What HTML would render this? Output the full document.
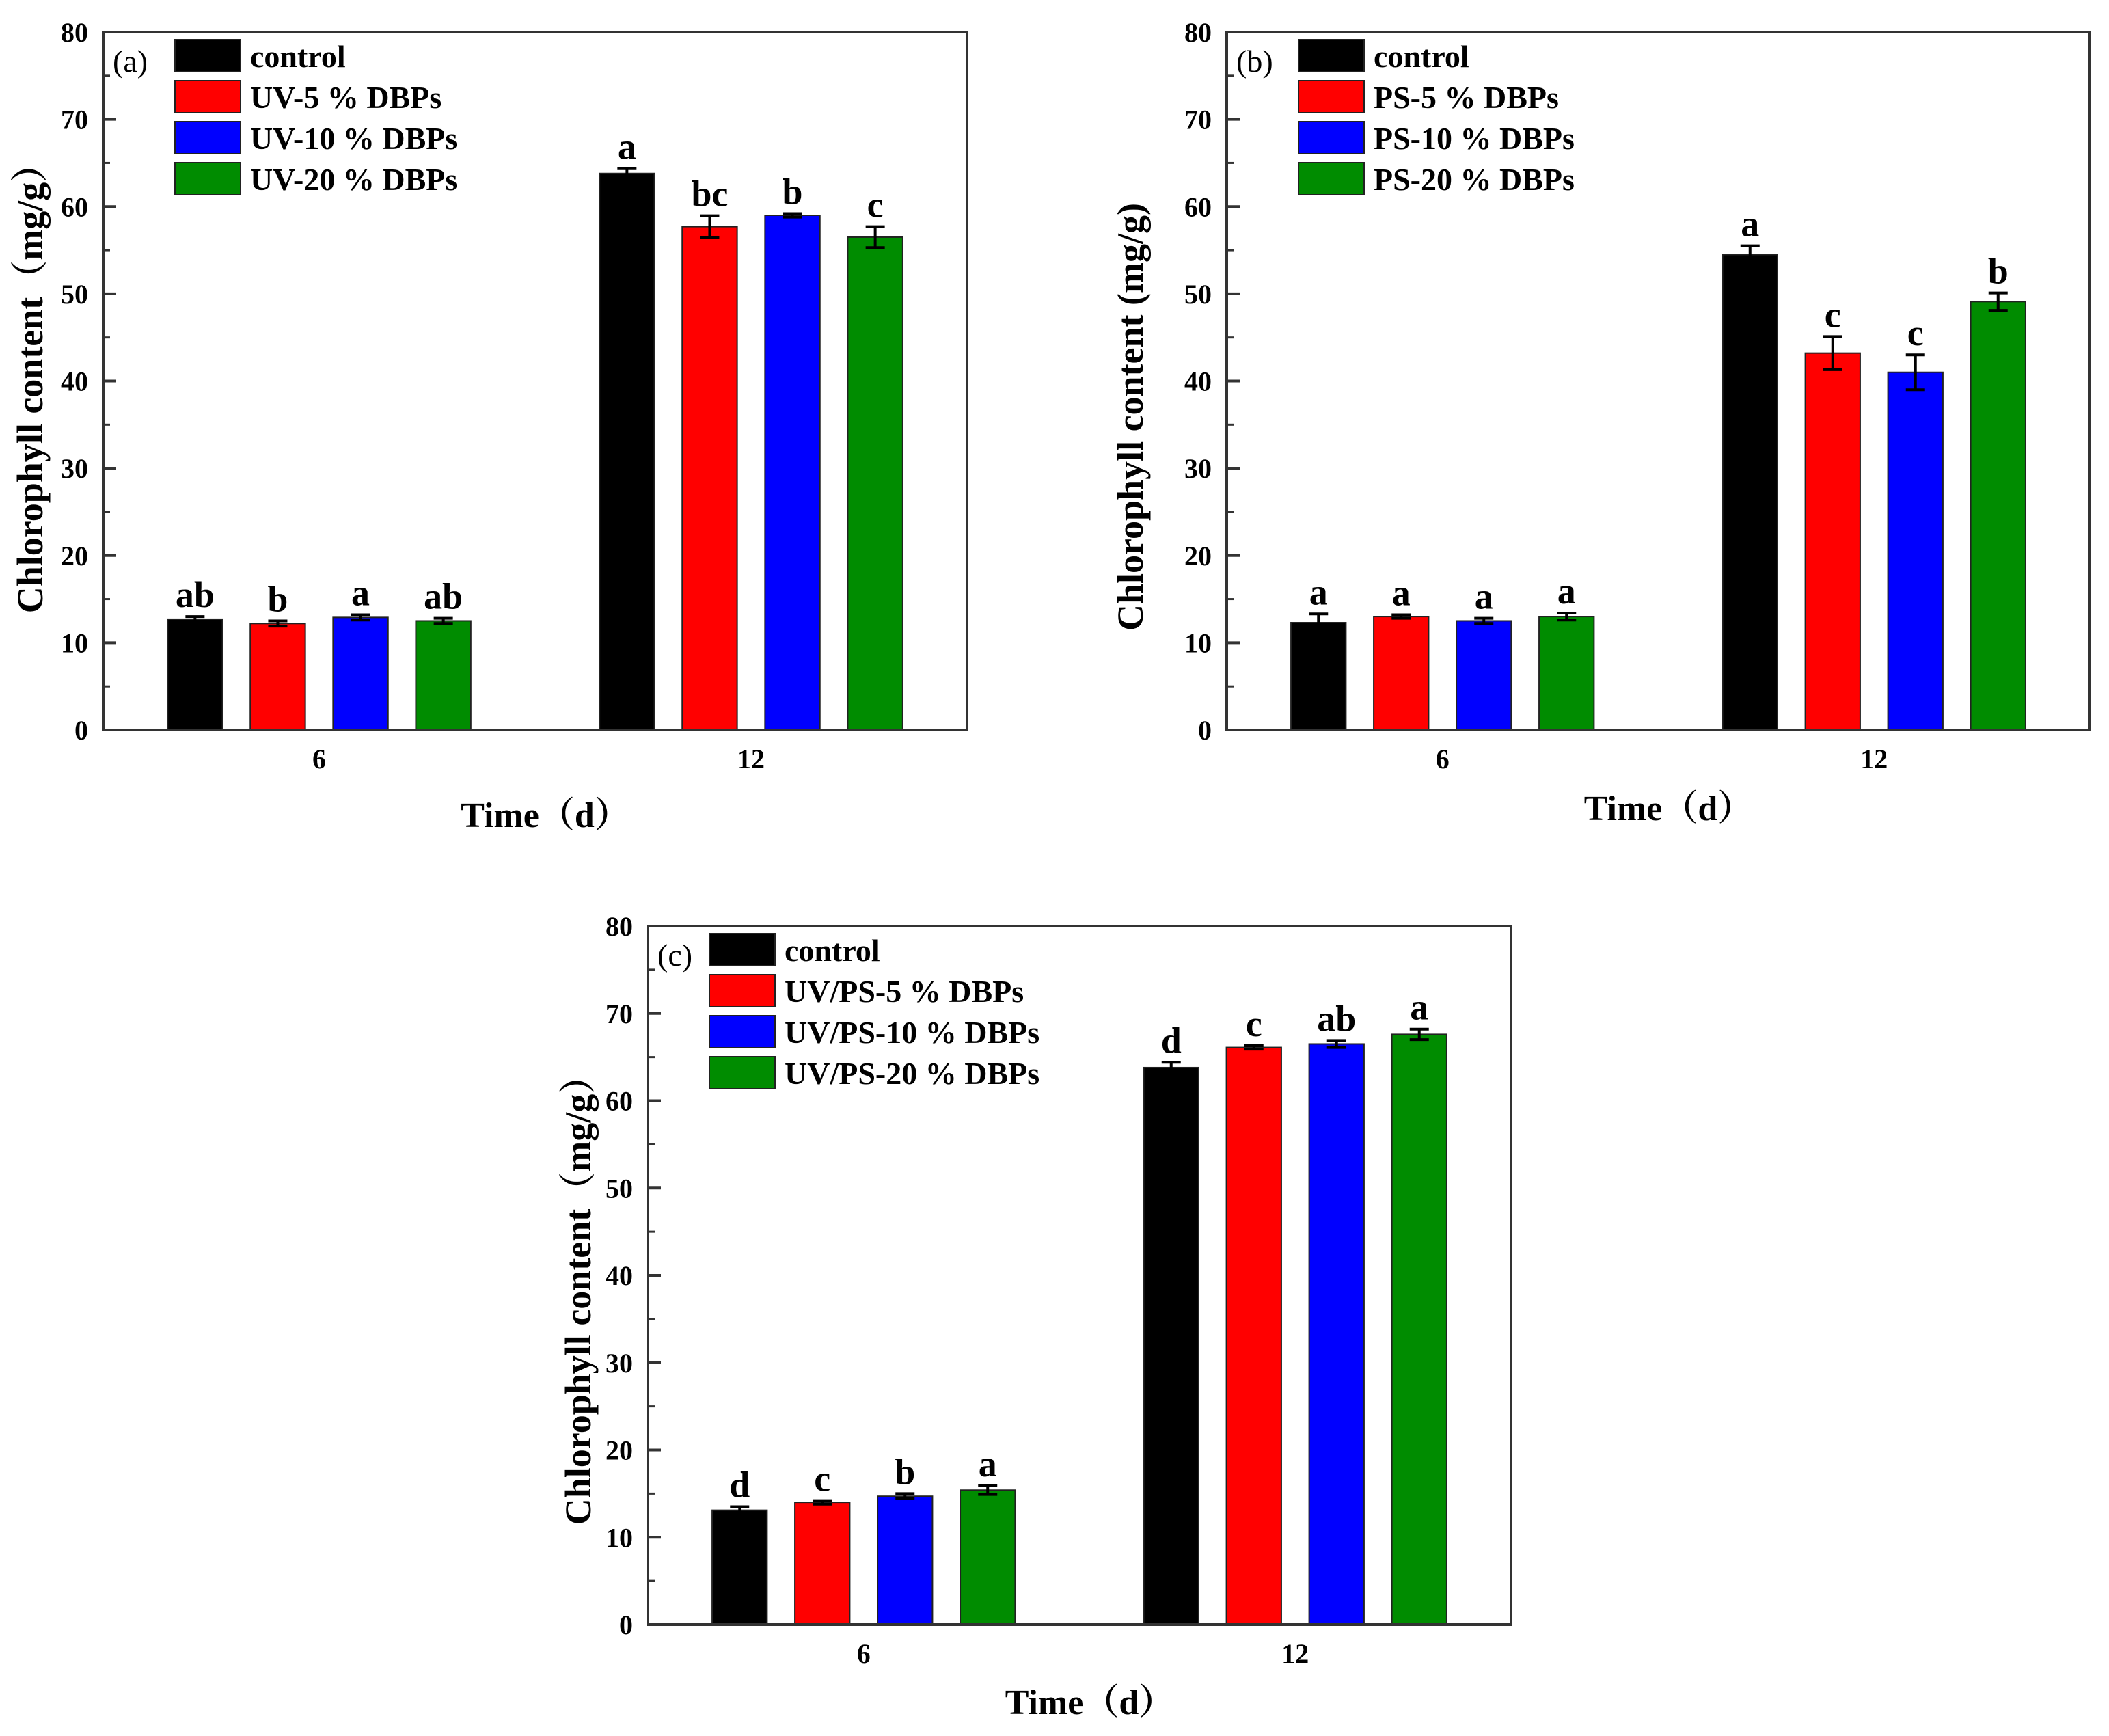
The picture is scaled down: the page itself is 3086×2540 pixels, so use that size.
<!DOCTYPE html>
<html><head><meta charset="utf-8">
<style>
html,body{margin:0;padding:0;background:#fff;}
svg{display:block;font-family:"Liberation Serif","Noto Serif CJK SC",serif;}
</style></head>
<body>
<svg id="fig" width="3086" height="2540" viewBox="0 0 3086 2540" xmlns="http://www.w3.org/2000/svg"></svg>
<script>
const categories = ["6", "12"];
const yTicks = [0, 10, 20, 30, 40, 50, 60, 70, 80];
const seriesColors = ["#000000", "#ff0000", "#0000ff", "#008c00"];

const aLegend = ["control", "UV-5 % DBPs", "UV-10 % DBPs", "UV-20 % DBPs"];
const aValues6 = [12.7, 12.2, 12.9, 12.5];
const aValues12 = [63.8, 57.7, 59.0, 56.5];
const aErr6 = [0.3, 0.3, 0.3, 0.3];
const aErr12 = [0.55, 1.25, 0.2, 1.2];
const aLetters6 = ["ab", "b", "a", "ab"];
const aLetters12 = ["a", "bc", "b", "c"];

const bLegend = ["control", "PS-5 % DBPs", "PS-10 % DBPs", "PS-20 % DBPs"];
const bValues6 = [12.3, 13.0, 12.5, 13.0];
const bValues12 = [54.5, 43.2, 41.0, 49.1];
const bErr6 = [1.0, 0.2, 0.3, 0.4];
const bErr12 = [1.0, 1.9, 2.0, 1.0];
const bLetters6 = ["a", "a", "a", "a"];
const bLetters12 = ["a", "c", "c", "b"];

const cLegend = ["control", "UV/PS-5 % DBPs", "UV/PS-10 % DBPs", "UV/PS-20 % DBPs"];
const cValues6 = [13.1, 14.0, 14.7, 15.4];
const cValues12 = [63.8, 66.1, 66.5, 67.6];
const cErr6 = [0.4, 0.2, 0.3, 0.5];
const cErr12 = [0.6, 0.2, 0.4, 0.6];
const cLetters6 = ["d", "c", "b", "a"];
const cLetters12 = ["d", "c", "ab", "a"];

const NS = "http://www.w3.org/2000/svg";
const svg = document.getElementById("fig");
function mk(tag, attrs, parent, text) {
  const e = document.createElementNS(NS, tag);
  for (const k in attrs) e.setAttribute(k, attrs[k]);
  if (text !== undefined) e.textContent = text;
  (parent || svg).appendChild(e);
  return e;
}

function panel(id, L, T, R, B, legend, v6, v12, e6, e12, l6, l12, yTitle, tag, yTitleX, yTitleY, xTitleY, legDx) {
  const g = mk("g", {});
  
  
  const W = R - L;
  const yS = v => B - (v / 80) * (B - T);
  const xS = i => L + W * (0.25 + 0.5 * i);
  const pitch = W * 0.0958, bw = W * 0.0636;
  const groups = [v6, v12], errs = [e6, e12], lets = [l6, l12];
  for (let gi = 0; gi < 2; gi++) {
    for (let s = 0; s < 4; s++) {
      const cx = xS(gi) + (s - 1.5) * pitch;
      const v = groups[gi][s], er = errs[gi][s];
      const r = mk("rect", {x: cx - bw / 2, y: yS(v), width: bw, height: yS(0) - yS(v), fill: seriesColors[s], stroke: "#222", "stroke-width": 2}, g);
      
      
      const eg = mk("g", {stroke: "#000", "stroke-width": 4}, g);
      
      
      mk("line", {x1: cx, x2: cx, y1: yS(v + er), y2: yS(v - er)}, eg);
      mk("line", {x1: cx - 14, x2: cx + 14, y1: yS(v + er), y2: yS(v + er)}, eg);
      mk("line", {x1: cx - 14, x2: cx + 14, y1: yS(v - er), y2: yS(v - er)}, eg);
      const t = mk("text", {x: cx, y: yS(v + er) - 14, "text-anchor": "middle", "font-size": 54, "font-weight": "bold"}, g, lets[gi][s]);
      
      
    }
    const xt = mk("text", {x: xS(gi), y: B + 56, "text-anchor": "middle", "font-size": 40, "font-weight": "bold"}, g, categories[gi]);
    
    
  }
  for (let i = 0; i < yTicks.length; i++) {
    const y = yS(yTicks[i]);
    mk("line", {x1: L, x2: L + 19, y1: y, y2: y, stroke: "#333", "stroke-width": 4}, g);
    if (i < yTicks.length - 1) {
      const ym = yS(yTicks[i] + 5);
      mk("line", {x1: L, x2: L + 10, y1: ym, y2: ym, stroke: "#333", "stroke-width": 3}, g);
    }
    const tl = mk("text", {x: L - 22, y: y + 14, "text-anchor": "end", "font-size": 40, "font-weight": "bold"}, g, String(yTicks[i]));
    
    
  }
  const fr = mk("rect", {x: L, y: T, width: W, height: B - T, fill: "none", stroke: "#333", "stroke-width": 4}, g);
  
  
  const sx = L + legDx, sy = T + 11;
  for (let s = 0; s < 4; s++) {
    const lg = mk("g", {}, g);
    
    
    mk("rect", {x: sx, y: sy + s * 60, width: 96, height: 47, fill: seriesColors[s], stroke: "#222", "stroke-width": 2}, lg);
    mk("text", {x: sx + 110, y: sy + s * 60 + 40, "font-size": 46, "font-weight": "bold"}, lg, legend[s]);
  }
  const pl = mk("text", {x: L + 14, y: T + 58, "font-size": 46}, g, tag);
  
  
  const yt = mk("text", {x: yTitleX, y: yTitleY, "text-anchor": "middle", "font-size": 54, "font-weight": "bold", transform: "rotate(-90 " + yTitleX + " " + yTitleY + ")"}, g, yTitle);
  
  
  const xt = mk("text", {x: L + W / 2 + 15, y: xTitleY, "text-anchor": "middle", "font-size": 52, "font-weight": "bold"}, g, "Time（d）");
  
  
}

panel("a", 151, 47, 1415, 1068, aLegend, aValues6, aValues12, aErr6, aErr12, aLetters6, aLetters12, "Chlorophyll content（mg/g）", "(a)", 62, 555, 1210, 105);
panel("b", 1795, 47, 3058, 1068, bLegend, bValues6, bValues12, bErr6, bErr12, bLetters6, bLetters12, "Chlorophyll content (mg/g)", "(b)", 1672, 610, 1200, 105);
panel("c", 948, 1355, 2211, 2377, cLegend, cValues6, cValues12, cErr6, cErr12, cLetters6, cLetters12, "Chlorophyll content（mg/g）", "(c)", 864, 1889, 2508, 90);
</script>
</body></html>
